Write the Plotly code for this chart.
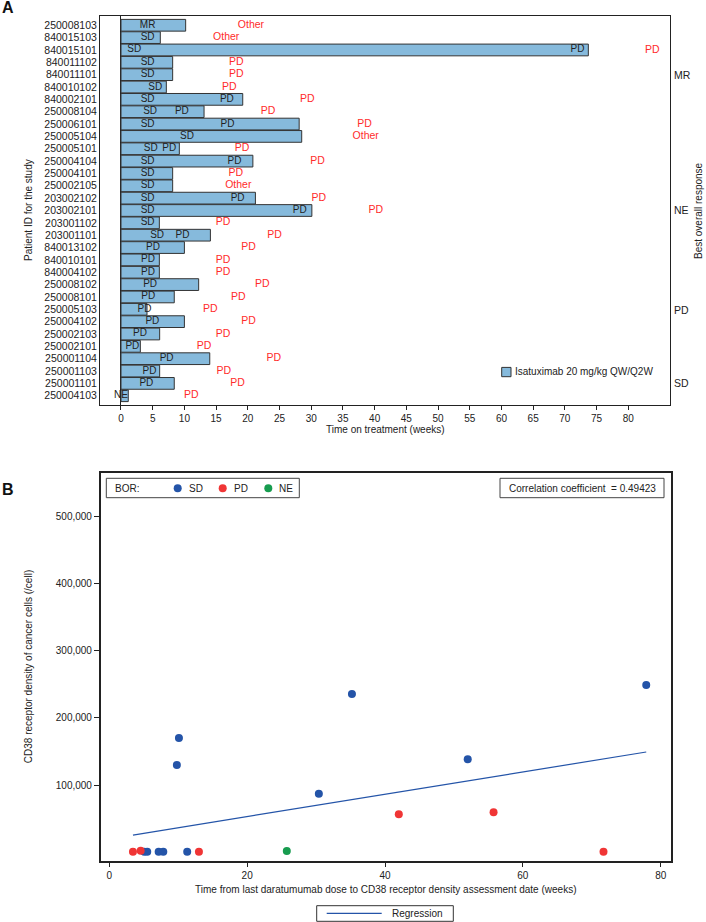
import numpy as np
import plotly.graph_objects as go

W, H = 706, 922

# ---------------- Panel A data ----------------
patient_ids = ["250008103", "840015103", "840015101", "840011102", "840011101", "840010102",
               "840002101", "250008104", "250006101", "250005104", "250005101", "250004104",
               "250004101", "250002105", "203002102", "203002101", "203001102", "203001101",
               "840013102", "840010101", "840004102", "250008102", "250008101", "250005103",
               "250004102", "250002103", "250002101", "250001104", "250001103", "250001101",
               "250004103"]
weeks_on_treatment = [10.2, 6.2, 73.7, 8.15, 8.15, 7.15, 19.2, 13.1, 28.1, 28.5, 9.2, 20.8,
                      8.15, 8.15, 21.2, 30.1, 6.05, 14.1, 10.0, 6.05, 6.05, 12.25, 8.4, 4.1,
                      10.0, 6.1, 3.05, 14.0, 6.1, 8.4, 1.15]
first_response = ["MR", "SD", "SD", "SD", "SD", "SD", "SD", "SD", "SD", "SD", "SD", "SD",
                  "SD", "SD", "SD", "SD", "SD", "SD", "PD", "PD", "PD", "PD", "PD", "PD",
                  "PD", "PD", "PD", "PD", "PD", "PD", "NE"]
first_response_week = [4.2, 4.2, 2.1, 4.2, 4.2, 5.4, 4.2, 4.6, 4.2, 10.4, 4.7, 4.2,
                       4.2, 4.2, 4.2, 4.2, 4.2, 5.7, 5.05, 4.26, 4.26, 4.6, 4.3, 3.7,
                       4.95, 3.0, 1.8, 7.2, 4.5, 4.0, 0.0]
second_response = ["", "", "PD", "", "", "", "PD", "PD", "PD", "", "PD", "PD",
                   "", "", "PD", "PD", "", "PD", "", "", "", "", "", "",
                   "", "", "", "", "", "", ""]
second_response_week = [None, None, 72.0, None, None, None, 16.7, 9.6, 16.8, None, 7.6, 17.9,
                        None, None, 18.4, 28.2, None, 9.7, None, None, None, None, None, None,
                        None, None, None, None, None, None, None]
discontinuation_reason = ["Other", "Other", "PD", "PD", "PD", "PD", "PD", "PD", "PD", "Other",
                          "PD", "PD", "PD", "Other", "PD", "PD", "PD", "PD", "PD", "PD",
                          "PD", "PD", "PD", "PD", "PD", "PD", "PD", "PD", "PD", "PD", "PD"]
discontinuation_week = [20.5, 16.6, 83.8, 18.2, 18.2, 17.1, 29.4, 23.2, 38.4, 38.6, 19.1, 31.0,
                        18.1, 18.5, 31.2, 40.2, 16.1, 24.2, 20.1, 16.1, 16.1, 22.3, 18.5, 14.1,
                        20.1, 16.1, 13.1, 24.1, 16.2, 18.4, 11.1]
bor_group_labels = ["MR", "NE", "PD", "SD"]
bor_group_rows = [4.02, 14.98, 23.05, 28.94]
x_ticks_a = list(range(0, 85, 5))

# ---------------- Panel B data ----------------
sd_weeks = [5.07, 5.5, 7.16, 7.83, 11.3, 9.8, 10.1, 30.4, 35.2, 52.0, 77.9]
sd_density = [500, 500, 500, 500, 500, 129900, 170100, 87100, 235600, 138300, 249100]
pd_weeks = [3.43, 4.55, 13.0, 42.0, 55.75, 71.7]
pd_density = [500, 2100, 500, 56300, 59300, 600]
ne_weeks = [25.75]
ne_density = [1600]
x_ticks_b = [0, 20, 40, 60, 80]
y_ticks_b = [100000, 200000, 300000, 400000, 500000]

FONT = "Liberation Sans, Arial, sans-serif"
TXT = "#222222"
BAR_FILL = "#86BADC"
BAR_LINE = "#333333"
RED = "#FF2B2B"
C_SD = "#2454A8"
C_PD = "#F03535"
C_NE = "#179C4F"


def px(p):
    return p / W


def py(p):
    return 1 - p / H


fig = go.Figure()

# Bars
fig.add_trace(go.Bar(
    x=weeks_on_treatment, y=patient_ids, orientation="h", base=0,
    marker=dict(color=BAR_FILL, line=dict(color=BAR_LINE, width=1)),
    width=0.95, name="Isatuximab 20 mg/kg QW/Q2W", showlegend=False,
    xaxis="x", yaxis="y", hoverinfo="x+y"))

# Response labels inside the bars
fig.add_trace(go.Scatter(
    x=first_response_week, y=patient_ids, text=first_response, mode="text",
    textfont=dict(size=10, color=TXT, family=FONT), showlegend=False,
    xaxis="x", yaxis="y", hoverinfo="skip"))
sec_x = [w for w in second_response_week if w is not None]
sec_y = [p for p, w in zip(patient_ids, second_response_week) if w is not None]
sec_t = [t for t, w in zip(second_response, second_response_week) if w is not None]
fig.add_trace(go.Scatter(
    x=sec_x, y=sec_y, text=sec_t, mode="text",
    textfont=dict(size=10, color=TXT, family=FONT), showlegend=False,
    xaxis="x", yaxis="y", hoverinfo="skip"))

# Discontinuation reasons (red)
fig.add_trace(go.Scatter(
    x=discontinuation_week, y=patient_ids, text=discontinuation_reason, mode="text",
    textfont=dict(size=10.5, color=RED, family=FONT), showlegend=False,
    xaxis="x", yaxis="y", hoverinfo="skip"))

# Panel B scatter
fig.add_trace(go.Scatter(x=sd_weeks, y=sd_density, mode="markers", name="SD",
                         marker=dict(color=C_SD, size=8), showlegend=False,
                         xaxis="x2", yaxis="y2"))
fig.add_trace(go.Scatter(x=pd_weeks, y=pd_density, mode="markers", name="PD",
                         marker=dict(color=C_PD, size=8), showlegend=False,
                         xaxis="x2", yaxis="y2"))
fig.add_trace(go.Scatter(x=ne_weeks, y=ne_density, mode="markers", name="NE",
                         marker=dict(color=C_NE, size=8), showlegend=False,
                         xaxis="x2", yaxis="y2"))

# Regression line fitted to all points
all_x = np.array(sd_weeks + pd_weeks + ne_weeks, dtype=float)
all_y = np.array(sd_density + pd_density + ne_density, dtype=float)
slope, intercept = np.polyfit(all_x, all_y, 1)
reg_x = np.array([all_x.min(), all_x.max()])
reg_y = slope * reg_x + intercept
fig.add_trace(go.Scatter(x=reg_x, y=reg_y, mode="lines", name="Regression",
                         line=dict(color=C_SD, width=1.2), showlegend=False,
                         xaxis="x2", yaxis="y2"))

axis_common = dict(showgrid=False, showline=True, mirror=True, linecolor="#222222",
                   tickcolor="#222222", tickfont=dict(size=10, color=TXT, family=FONT))

fig.update_layout(
    width=W, height=H,
    margin=dict(l=0, r=0, t=0, b=0),
    paper_bgcolor="white", plot_bgcolor="white",
    font=dict(family=FONT, size=10, color=TXT),
    showlegend=False,
    xaxis=dict(domain=[px(100), px(670)], range=[-3.31, 86.58], anchor="y",
               tickmode="array", tickvals=x_ticks_a, ticks="outside", ticklen=4,
               zeroline=True, zerolinecolor="#222222", zerolinewidth=1,
               linewidth=1, automargin=False, **axis_common),
    yaxis=dict(domain=[py(405), py(16)], anchor="x", type="category",
               categoryorder="array", categoryarray=patient_ids,
               tickmode="linear", tick0=0, dtick=1,
               range=[len(patient_ids) - 0.25, -0.75], ticks="",
               linewidth=1, automargin=False,
               showgrid=False, showline=True, mirror=True, linecolor="#222222",
               tickfont=dict(size=10.5, color=TXT, family=FONT)),
    xaxis2=dict(domain=[px(100.7), px(670.7)], range=[-1.25, 81.45], anchor="y2",
                tickmode="array", tickvals=x_ticks_b, ticks="outside", ticklen=5,
                zeroline=False, linewidth=1.5, automargin=False, **axis_common),
    yaxis2=dict(domain=[py(860.7), py(472.7)], range=[-12800, 565600], anchor="x2",
                tickmode="array", tickvals=y_ticks_b, tickformat=",", ticks="outside",
                ticklen=5, zeroline=False, linewidth=1.5, automargin=False, **axis_common),
)

ann = []


def add_text(text, x, y, xanchor="center", yanchor="middle", size=10, color=TXT,
             angle=0, bold=False, xref="paper", yref="paper"):
    ann.append(dict(text=("<b>%s</b>" % text) if bold else text, x=x, y=y,
                    xref=xref, yref=yref, xanchor=xanchor, yanchor=yanchor,
                    showarrow=False, textangle=angle,
                    font=dict(size=size, color=color, family=FONT)))


# Panel labels
add_text("A", px(0), py(7.5), xanchor="left", size=16, bold=True, color="#111")
add_text("B", px(0), py(489), xanchor="left", size=16, bold=True, color="#111")

# Panel A titles
add_text("Patient ID for the study", px(28.5), py(210.5), angle=-90, size=10)
add_text("Time on treatment (weeks)", px(385), py(430), size=10)
add_text("Best overall response", px(698.5), py(210.5), angle=-90, size=10)
for lab, row in zip(bor_group_labels, bor_group_rows):
    add_text(lab, px(672), row, xanchor="left", yref="y", size=10.5)

# Panel A legend (swatch + text)
shapes = [dict(type="rect", xref="paper", yref="paper", x0=px(501.7), x1=px(511),
               y0=py(376.7), y1=py(367.4), fillcolor=BAR_FILL,
               line=dict(color=BAR_LINE, width=1))]
add_text("Isatuximab 20 mg/kg QW/Q2W", px(513), py(372), xanchor="left", size=10)

# Panel B titles
add_text("CD38 receptor density of cancer cells (/cell)", px(28.5), py(666.7), angle=-90, size=10)
add_text("Time from last daratumumab dose to CD38 receptor density assessment date (weeks)",
         px(385), py(889.5), size=10)

# BOR legend box
shapes.append(dict(type="rect", xref="paper", yref="paper", x0=px(106.3), x1=px(299.3),
                   y0=py(497.7), y1=py(478.3), line=dict(color="#444444", width=1),
                   fillcolor="white"))
add_text("BOR:", px(112.5), py(488.3), xanchor="left", size=10)
for cx, col, lab in [(177.7, C_SD, "SD"), (222.7, C_PD, "PD"), (268.3, C_NE, "NE")]:
    shapes.append(dict(type="circle", xref="paper", yref="paper",
                       x0=px(cx - 4), x1=px(cx + 4), y0=py(488.3 + 4), y1=py(488.3 - 4),
                       fillcolor=col, line=dict(color=col, width=0)))
    add_text(lab, px(cx + 9), py(488.3), xanchor="left", size=10)

# Correlation box
shapes.append(dict(type="rect", xref="paper", yref="paper", x0=px(500), x1=px(664),
                   y0=py(497.7), y1=py(478.3), line=dict(color="#444444", width=1),
                   fillcolor="white"))
add_text("Correlation coefficient  = 0.49423", px(582), py(488.3), size=10)

# Regression legend box
shapes.append(dict(type="rect", xref="paper", yref="paper", x0=px(316.7), x1=px(453.3),
                   y0=py(921.3), y1=py(905.7), line=dict(color="#333333", width=1),
                   fillcolor="white"))
shapes.append(dict(type="line", xref="paper", yref="paper", x0=px(326.7), x1=px(381.7),
                   y0=py(913.3), y1=py(913.3), line=dict(color=C_SD, width=1.2)))
add_text("Regression", px(390), py(913.3), xanchor="left", size=10)

fig.update_layout(annotations=ann, shapes=shapes)

fig.write_html("out.html",
               config={"displayModeBar": False},
               post_script="document.body.style.margin='0px';document.body.style.padding='0px';")
